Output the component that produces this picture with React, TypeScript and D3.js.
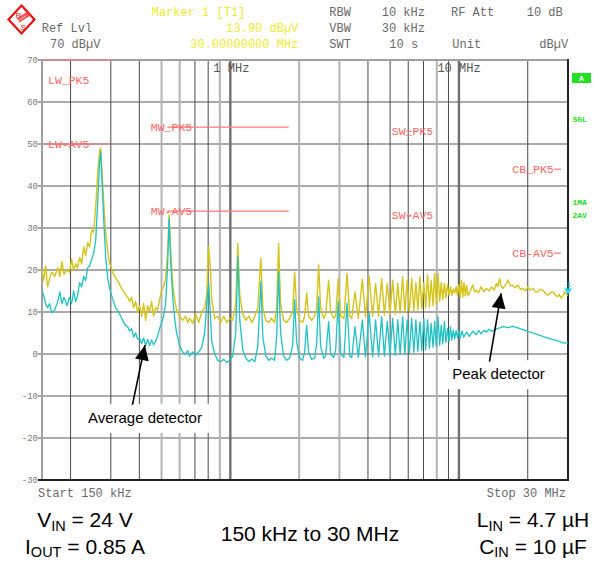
import React from "react";
import * as d3 from "d3";

// ---------- data ----------
const yTicks = [70, 60, 50, 40, 30, 20, 10, 0, -10, -20, -30];
const lightGridDb = [60, 50, 40, 30, 20, 10];
const darkGridDb = [0, -10, -20];
const lightGridFreqs = [0.5, 0.6, 0.9, 2, 3, 8];
const darkGridFreqs = [0.2, 0.3, 0.4, 0.7, 0.8, 4, 5, 6, 7, 9, 20];
const majorGridFreqs = [1, 10];

// limit lines
const limitNames = ["LW_PK5", "LW-AV5", "MW_PK5", "MW-AV5", "SW_PK5", "SW-AV5", "CB_PK5", "CB-AV5"];
const limitStart = [0.15, 0.15, 0.53, 0.53, 5.9, 5.9, 26, 26];
const limitEnd = [0.3, 0.3, 1.8, 1.8, 6.2, 6.2, 28, 28];
const limitLevel = [70, 50, 54, 34, 53, 33, 44, 24];

// peak detector trace [MHz, dBuV]
const peakTrace: [number, number][] = [
  [0.150, 20], [0.1524, 17.5], [0.1555, 21], [0.1587, 16], [0.162, 18], [0.1653, 19.5], [0.1705, 18.5], [0.1759, 20.5],
  [0.1796, 18.5], [0.1833, 22], [0.1871, 19], [0.193, 20], [0.1978, 19.5], [0.2022, 22.5], [0.2062, 20], [0.2104, 21.5],
  [0.2147, 20.5], [0.2191, 23], [0.2236, 21.5], [0.2282, 25.5], [0.2328, 23.5], [0.2376, 26.5], [0.2424, 25.5], [0.2474, 29.5],
  [0.2524, 29], [0.2576, 35], [0.2628, 43], [0.2682, 48.5], [0.2709, 49], [0.2737, 45], [0.2793, 36], [0.285, 29],
  [0.2908, 24.5], [0.2968, 21.5], [0.3058, 19.5], [0.3152, 18], [0.3248, 17], [0.3347, 15.5], [0.345, 14.5], [0.3555, 13.5],
  [0.3627, 12.5], [0.3701, 13.5], [0.3776, 11], [0.3852, 12.5], [0.3931, 10], [0.4011, 11.5], [0.4092, 9], [0.4175, 12],
  [0.426, 8], [0.4347, 11.5], [0.4435, 10], [0.4525, 12.5], [0.4617, 9], [0.4711, 11], [0.4807, 10.5], [0.4904, 13],
  [0.5004, 15], [0.5106, 16], [0.521, 18], [0.5316, 24], [0.5397, 33.1], [0.548, 25], [0.5591, 17], [0.5705, 13],
  [0.5821, 10.5], [0.6, 9], [0.6184, 8], [0.6376, 9], [0.6506, 7.5], [0.6638, 8.5], [0.6843, 7.3], [0.7053, 9.5],
  [0.727, 7.5], [0.7493, 10], [0.7724, 11], [0.7881, 14], [0.8042, 25.6], [0.8165, 21], [0.8289, 13], [0.8544, 8.5],
  [0.8806, 9], [0.9077, 7.5], [0.9356, 9], [0.9643, 7.5], [0.9939, 8.5], [1.0245, 8], [1.056, 12], [1.078, 26.3],
  [1.1, 14], [1.134, 9.5], [1.169, 8], [1.205, 9], [1.242, 7.5], [1.28, 9], [1.319, 11], [1.36, 22.8],
  [1.387, 11], [1.43, 8], [1.474, 7.5], [1.515, 8.5], [1.562, 7.5], [1.594, 11], [1.626, 26.3], [1.659, 12],
  [1.71, 8], [1.762, 7.5], [1.817, 8.5], [1.873, 10], [1.911, 19.5], [1.949, 11], [2.009, 8], [2.071, 7.5],
  [2.113, 9], [2.157, 14.5], [2.2, 9], [2.268, 8], [2.338, 9], [2.386, 11], [2.434, 21.2], [2.483, 11],
  [2.559, 8.5], [2.612, 9.5], [2.692, 17.6], [2.747, 10], [2.832, 8.5], [2.89, 9], [2.964, 18],
  [3.04, 9], [3.14, 8.5], [3.24, 19.2], [3.33, 9], [3.4, 8.5], [3.51, 14.8], [3.63, 8.5], [3.78, 17.8],
  [3.9, 8.8], [4.05, 18.4], [4.19, 9], [4.32, 16.8], [4.45, 9], [4.59, 18], [4.72, 9.3], [4.86, 16.8],
  [4.99, 9.5], [5.13, 17.6], [5.27, 9.5], [5.4, 16.8], [5.53, 9.7], [5.67, 18.4], [5.8, 10], [5.94, 17.6],
  [6.07, 10], [6.21, 18], [6.35, 10.3], [6.48, 17], [6.61, 10.5], [6.75, 18.4], [6.88, 10.8], [7.02, 17],
  [7.15, 11], [7.29, 18.8], [7.43, 11.2], [7.56, 17.6], [7.7, 11.5], [7.83, 19.2], [7.96, 12], [8.1, 19.2],
  [8.24, 12.5], [8.37, 17], [8.5, 13], [8.64, 16.8], [8.77, 13.3], [8.91, 16.5], [9.05, 14], [9.18, 16],
  [9.31, 14], [9.45, 15.5], [9.58, 14.5], [9.72, 16], [9.85, 14], [9.99, 16.5], [10.13, 13.5], [10.26, 17.6],
  [10.4, 13.6], [10.53, 17], [10.67, 13.8], [10.8, 16.4], [10.95, 14], [11.1, 14.4], [11.3, 15.5], [11.5, 16.4],
  [11.7, 14.8], [11.9, 15.2], [12.2, 14.6], [12.5, 16], [12.85, 14.8], [13.2, 15.6], [13.55, 15], [13.9, 16],
  [14.25, 15.2], [14.6, 16.8], [14.8, 16], [15.06, 18], [15.3, 16.2], [15.6, 15.6], [16.0, 16.5], [16.4, 17.6],
  [16.8, 16.2], [17.2, 16.4], [17.6, 15.8], [18.1, 16.4], [18.6, 15.4], [19.05, 15.6], [19.5, 15], [20.0, 16],
  [20.5, 15.2], [21.1, 15.6], [21.6, 14.8], [22.1, 14.8], [22.7, 15.4], [23.3, 15.2], [23.9, 14.4], [24.5, 14],
  [25.1, 14.6], [25.8, 14.8], [26.4, 14], [27.1, 13.6], [27.5, 14.2], [28.0, 13.3], [28.5, 13.8], [29.0, 14.8],
  [29.5, 14.2], [30, 13.9],
];

// average detector trace [MHz, dBuV]
const avgTrace: [number, number][] = [
  [0.15, 15.2], [0.1524, 14], [0.1555, 12], [0.1587, 11], [0.162, 12], [0.1653, 9.8], [0.1705, 10.5], [0.1759, 12.5],
  [0.1796, 14.8], [0.1833, 12], [0.1871, 13.5], [0.193, 11.5], [0.1978, 13.5], [0.2022, 12], [0.2062, 15], [0.2104, 12.5],
  [0.2147, 14], [0.2191, 17], [0.2236, 16], [0.2282, 18.5], [0.2328, 17.5], [0.2376, 20.5], [0.2424, 21], [0.2474, 22.5],
  [0.2524, 24], [0.2576, 27], [0.2628, 36], [0.2682, 46], [0.2709, 48.2], [0.2737, 43], [0.2793, 32], [0.285, 23],
  [0.2908, 18], [0.2968, 15.5], [0.3058, 13], [0.3152, 11], [0.3248, 10], [0.3347, 8.5], [0.345, 7], [0.3555, 6.5],
  [0.3627, 5.5], [0.3701, 6], [0.3776, 4], [0.3852, 5], [0.3931, 3.5], [0.4011, 3.8], [0.4092, 2.5], [0.4175, 3.8],
  [0.426, 2], [0.4347, 3.5], [0.4435, 2], [0.4525, 3.3], [0.4617, 2.2], [0.4711, 3], [0.4807, 4.3], [0.4904, 6],
  [0.5004, 7.5], [0.5106, 9], [0.521, 12], [0.5316, 21], [0.5397, 32.3], [0.548, 22], [0.5591, 14], [0.5705, 8.5],
  [0.5821, 5], [0.6, 2], [0.6184, 0.5], [0.6376, 0], [0.6506, 0.8], [0.6638, -0.5], [0.6843, 0.5], [0.7053, -0.3],
  [0.727, 0.5], [0.7493, 1.5], [0.7724, 5], [0.7881, 12], [0.8042, 16.8], [0.8165, 10], [0.8289, 3], [0.8544, 0],
  [0.8806, -1.5], [0.9077, -1.8], [0.9356, -1.3], [0.9643, -2], [0.9939, -1.5], [1.0245, -0.5], [1.056, 5], [1.078, 23.2],
  [1.1, 8], [1.134, 1], [1.169, -1], [1.205, -1.8], [1.242, -1.2], [1.28, -1.8], [1.319, 2], [1.36, 17.2],
  [1.387, 4], [1.43, -0.5], [1.474, -1.5], [1.515, -1], [1.562, -1.5], [1.594, 4], [1.626, 19.6], [1.659, 5],
  [1.71, -0.5], [1.762, -1.5], [1.817, -1], [1.873, 2], [1.911, 12.9], [1.949, 3], [2.009, -1], [2.071, -1.5],
  [2.113, 0.5], [2.157, 6.8], [2.2, 0.5], [2.268, -1.3], [2.338, -1], [2.386, 2.5], [2.434, 13.6], [2.483, 2],
  [2.559, -1], [2.612, -0.5], [2.692, 7.7], [2.747, 0], [2.832, -0.8], [2.89, 1], [2.964, 12.5],
  [3.04, 0], [3.14, -0.8], [3.24, 12.1], [3.33, -0.5], [3.4, -0.8], [3.51, 6.5], [3.63, -0.8], [3.78, 8.1],
  [3.9, -0.7], [4.05, 9.7], [4.19, -0.7], [4.32, 8.1], [4.45, -0.6], [4.59, 8.9], [4.72, -0.5], [4.86, 7.7],
  [4.99, -0.4], [5.13, 8.5], [5.27, -0.3], [5.4, 8.1], [5.53, -0.1], [5.67, 8.9], [5.8, 0], [5.94, 8.1],
  [6.07, 0.2], [6.21, 8.5], [6.35, 0.4], [6.48, 8.1], [6.61, 0.6], [6.75, 7.7], [6.88, 0.8], [7.02, 8.5],
  [7.15, 1], [7.29, 8.1], [7.43, 1.3], [7.56, 7.3], [7.7, 1.6], [7.83, 7.7], [7.96, 1.9], [8.1, 8.9],
  [8.24, 2.1], [8.37, 6.9], [8.5, 2.4], [8.64, 7.7], [8.77, 2.7], [8.91, 6.1], [9.05, 3], [9.18, 6.5],
  [9.31, 3.3], [9.45, 5.7], [9.58, 3.6], [9.72, 5.5], [9.85, 3.9], [9.99, 5.5], [10.13, 3.8], [10.3, 5.5],
  [10.5, 4], [10.8, 5.2], [11.1, 4.2], [11.5, 5.4], [11.9, 4.6], [12.2, 5.6], [12.5, 4.8], [12.85, 5.6],
  [13.2, 5.2], [13.55, 5.9], [13.9, 5.4], [14.6, 6], [15.06, 6.2], [15.6, 6.5], [16.4, 6.3], [17.2, 6.6],
  [18.1, 6.2], [19.05, 5.8], [20, 5.4], [21.1, 5.0], [22.1, 4.6], [23.3, 4.2], [24.5, 3.8], [25.8, 3.4],
  [27.1, 3.1], [28, 2.8], [29, 2.6], [30, 2.7],
];

// annotations
const annotationText = ["Average detector", "Peak detector"];
const annotationAt: [number, number][] = [[0.423, -15.2], [14.9, -4.8]];
const arrowTail: [number, number][] = [[0.373, -12.1], [13.6, -1.8]];
const arrowTip: [number, number][] = [[0.423, 2.1], [15.3, 14.45]];

const markerPoint: [number, number] = [30, 13.9];

// ---------- component ----------
const W = 593, H = 562;
const mono = "'Liberation Mono', 'DejaVu Sans Mono', monospace";
const sans = "'Liberation Sans', Arial, sans-serif";

export default function App() {
  const x = d3.scaleLog().domain([0.15, 30]).range([42, 568]);
  const y = d3.scaleLinear().domain([-30, 70]).range([480, 60]);
  const line = d3.line<[number, number]>().x((d) => x(d[0])).y((d) => y(d[1]));

  const grey = "#6a6a6a";
  const yellow = "#eded30";

  const arrowHead = (tail: [number, number], tip: [number, number]) => {
    const tx = x(tip[0]), ty = y(tip[1]);
    const sx = x(tail[0]), sy = y(tail[1]);
    const ang = Math.atan2(ty - sy, tx - sx);
    const len = 15, half = 7;
    const bx = tx - len * Math.cos(ang), by = ty - len * Math.sin(ang);
    const px = -Math.sin(ang) * half, py = Math.cos(ang) * half;
    return `M${tx},${ty}L${bx + px},${by + py}L${bx - px},${by - py}Z`;
  };

  return (
    <svg width={W} height={H} style={{ position: "absolute", left: 0, top: 0, background: "#fff" }}>
      <rect x={0} y={0} width={W} height={H} fill="#fff" />

      {/* R&S logo */}
      <g transform="translate(21.5,19.5)">
        <path d="M0,-14L13,0L0,14L-13,0Z" fill="#fff" stroke="#f01010" strokeWidth={2.2} />
        <path d="M-5,-1L6,-8L9,-4L-2,3Z" fill="#f33" opacity={0.85} />
        <path d="M-6,3L5,-4M-4,5L7,-2" stroke="#fff" strokeWidth={0.7} />
        <text x={-6} y={-2} fontFamily={sans} fontSize={8} fill="#f01010">R</text>
        <text x={-1} y={10} fontFamily={sans} fontSize={8} fill="#f01010">S</text>
      </g>

      {/* header */}
      <g fontFamily={mono} fontSize={12}>
        <text x={151.7} y={15.5} fill={yellow}>Marker 1 [T1]</text>
        <text x={41.7} y={31.5} fill={grey}>Ref Lvl</text>
        <text x={298.3} y={31.5} fill={yellow} textAnchor="end">13.90 dBµV</text>
        <text x={50} y={48} fill={grey}>70 dBµV</text>
        <text x={298.3} y={48} fill={yellow} textAnchor="end">30.00000000 MHz</text>
        <text x={329.3} y={15.5} fill={grey}>RBW</text>
        <text x={381.7} y={15.5} fill={grey}>10 kHz</text>
        <text x={451} y={15.5} fill={grey}>RF Att</text>
        <text x={526.7} y={15.5} fill={grey}>10 dB</text>
        <text x={329.3} y={31.5} fill={grey}>VBW</text>
        <text x={381.7} y={31.5} fill={grey}>30 kHz</text>
        <text x={329.3} y={48} fill={grey}>SWT</text>
        <text x={389.3} y={48} fill={grey}>10 s</text>
        <text x={452.3} y={48} fill={grey}>Unit</text>
        <text x={539.3} y={48} fill={grey}>dBµV</text>
      </g>

      {/* horizontal grid */}
      {lightGridDb.map((v) => (
        <line key={"hl" + v} x1={38} x2={568} y1={y(v)} y2={y(v)} stroke="#a9a9a9" strokeWidth={2} />
      ))}
      {darkGridDb.map((v) => (
        <line key={"hd" + v} x1={38} x2={568} y1={y(v)} y2={y(v)} stroke="#5a5a5a" strokeWidth={1.2} />
      ))}
      {/* vertical grid */}
      {lightGridFreqs.map((f) => (
        <line key={"vl" + f} x1={x(f)} x2={x(f)} y1={60} y2={480} stroke="#b4b4b4" strokeWidth={2} />
      ))}
      {darkGridFreqs.map((f) => (
        <line key={"vd" + f} x1={x(f)} x2={x(f)} y1={60} y2={480} stroke="#4a4a4a" strokeWidth={1} />
      ))}
      {majorGridFreqs.map((f) => (
        <line key={"vm" + f} x1={x(f)} x2={x(f)} y1={60} y2={480} stroke="#707070" strokeWidth={2.4} />
      ))}

      {/* frame */}
      <line x1={38} x2={568} y1={y(70)} y2={y(70)} stroke="#a0a0a0" strokeWidth={2} />
      <line x1={42} x2={42} y1={60} y2={480} stroke="#a0a0a0" strokeWidth={2} />
      <line x1={38} x2={569} y1={480} y2={480} stroke="#222" strokeWidth={2} />
      <line x1={568} x2={568} y1={59} y2={481} stroke="#222" strokeWidth={2} />

      {/* y tick labels */}
      <g fontFamily={mono} fontSize={9} fill="#7a7a7a" textAnchor="end">
        {yTicks.map((v) => (
          <text key={"yt" + v} x={38} y={y(v) + 3}>{v}</text>
        ))}
      </g>

      {/* decade labels */}
      <g fontFamily={mono} fontSize={12} fill="#555">
        <text x={x(1) - 17} y={72}>1 MHz</text>
        <text x={x(10) - 21.5} y={72}>10 MHz</text>
      </g>

      {/* limit lines */}
      <g>
        {limitNames.map((n, i) => {
          const ly = y(limitLevel[i]);
          return <line key={"ll" + n} x1={x(limitStart[i])} x2={x(limitEnd[i])} y1={ly} y2={ly} stroke="#ff7878" strokeWidth={1.2} />;
        })}
      </g>
      <g fontFamily={mono} fontSize={11.5} fill="#ff6464">
        {limitNames.map((n, i) => {
          const ly = y(limitLevel[i]);
          const x0 = x(limitStart[i]);
          const ty = (limitLevel[i] >= 70 ? ly + 20 : ly) + 4;
          let tx = x0, anchor = "start";
          if (i < 2) { tx = x0 + 6; anchor = "start"; }
          else if (i < 4) { tx = x0 - 16.5; anchor = "start"; }
          else if (i < 6) { tx = (x0 + x(limitEnd[i])) / 2 + 3.5; anchor = "middle"; }
          else { tx = x0; anchor = "end"; }
          return <text key={"lt" + n} x={tx} y={ty} textAnchor={anchor as any}>{n}</text>;
        })}
      </g>

      {/* traces */}
      <path d={line(peakTrace) || ""} fill="none" stroke="#d6c418" strokeWidth={1.4} strokeLinejoin="round" />
      <path d={line(avgTrace) || ""} fill="none" stroke="#1fc3c6" strokeWidth={1.3} strokeLinejoin="round" />

      {/* marker */}
      <path
        d={`M${x(markerPoint[0]) - 4},${y(markerPoint[1]) - 7}L${x(markerPoint[0]) + 4},${y(markerPoint[1]) - 7}L${x(markerPoint[0])},${y(markerPoint[1]) - 1}Z`}
        fill="#22d0e8"
      />
      <text x={x(markerPoint[0]) - 1.5} y={y(markerPoint[1]) - 9} fontFamily={mono} fontSize={8} fill="#22d0e8">1</text>

      {/* right side status */}
      <rect x={572} y={73} width={19} height={10} fill="#22e022" />
      <text x={581.5} y={81} fontFamily={mono} fontSize={8} fontWeight="bold" fill="#fff" textAnchor="middle">A</text>
      <g fontFamily={mono} fontSize={8} fontWeight="bold" fill="#22dd22">
        <text x={572.5} y={122}>SGL</text>
        <text x={572.5} y={204.5}>1MA</text>
        <text x={572.5} y={218}>2AV</text>
      </g>

      {/* annotations */}
      {annotationText.map((t, i) => {
        const cx = x(annotationAt[i][0]);
        const cy = y(annotationAt[i][1]);
        const w = i === 0 ? 128 : 106;
        return (
          <g key={"an" + i}>
            <rect x={cx - w / 2} y={cy - 14} width={w} height={29} fill="#fff" />
            <text x={cx} y={cy + 5} fontFamily={sans} fontSize={15} fill="#000" textAnchor="middle">{t}</text>
            <line
              x1={x(arrowTail[i][0])} y1={y(arrowTail[i][1])}
              x2={x(arrowTip[i][0])} y2={y(arrowTip[i][1])}
              stroke="#000" strokeWidth={1.6}
            />
            <path d={arrowHead(arrowTail[i], arrowTip[i])} fill="#000" />
          </g>
        );
      })}

      {/* footer of instrument */}
      <g fontFamily={mono} fontSize={12} fill={grey}>
        <text x={38} y={497}>Start 150 kHz</text>
        <text x={566} y={497} textAnchor="end">Stop 30 MHz</text>
      </g>

      {/* conditions */}
      <g fontFamily={sans} fontSize={21} fill="#000">
        <text x={85} y={527} textAnchor="middle">V<tspan fontSize={14.5} dy={3.5}>IN</tspan><tspan dy={-3.5}> = 24 V</tspan></text>
        <text x={85} y={554} textAnchor="middle">I<tspan fontSize={14.5} dy={3}>OUT</tspan><tspan dy={-3}> = 0.85 A</tspan></text>
        <text x={310} y={541} textAnchor="middle">150 kHz to 30 MHz</text>
        <text x={533} y={527} textAnchor="middle">L<tspan fontSize={14.5} dy={3.5}>IN</tspan><tspan dy={-3.5}> = 4.7 µH</tspan></text>
        <text x={533} y={554} textAnchor="middle">C<tspan fontSize={14.5} dy={3}>IN</tspan><tspan dy={-3}> = 10 µF</tspan></text>
      </g>
    </svg>
  );
}
